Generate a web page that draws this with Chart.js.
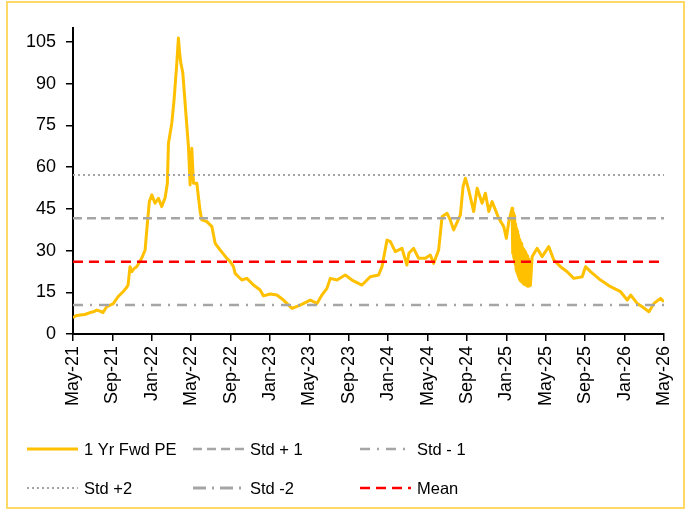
<!DOCTYPE html>
<html>
<head>
<meta charset="utf-8">
<script src="https://cdn.jsdelivr.net/npm/chart.js@4/dist/chart.umd.min.js"></script>
<style>
  body { margin: 0; background: #fff; }
  #wrap { position: relative; width: 691px; height: 509px; }
  #frame { position: absolute; left: 6px; top: 1px; width: 675px; height: 504px; border: 2px solid #FFD966; pointer-events: none; }
</style>
</head>
<body>
<div id="wrap">
  <canvas id="peChart" width="691" height="509"></canvas>
  <div id="frame"></div>
</div>
<script>
// months since May-21
const months = [0, 0.3, 0.71, 1.2, 1.73, 2.1, 2.41, 2.75, 3.05, 3.42, 4.07, 4.57, 5.08, 5.4, 5.59, 5.79, 5.97, 6.2, 6.47, 6.98,
  7.32, 7.55, 7.75, 8.0, 8.33, 8.67, 9.01, 9.35, 9.58, 9.69, 10.03, 10.26, 10.54, 10.7, 10.85, 10.95, 11.15, 11.38, 11.72, 11.89,
  12.06, 12.23, 12.57, 12.91, 13.08, 13.59, 14.1, 14.43, 14.94, 15.62, 15.96, 16.29, 16.46, 16.8, 17.14, 17.65, 18.32, 19.0, 19.34, 20.02,
  20.7, 21.37, 22.23, 23.07, 24.09, 24.77, 25.27, 25.78, 26.12, 26.8, 27.64, 28.32, 29.34, 30.18, 31.03, 31.37, 31.88, 32.22, 32.72, 33.4,
  33.9, 34.1, 34.58, 35.09, 35.77, 36.28, 36.62, 37.12, 37.47, 37.98, 38.3, 38.65, 39.33, 39.6, 39.84, 40.17, 40.68, 41.03, 41.53, 41.87,
  42.21, 42.55, 43.22, 43.73, 44.0, 44.24, 44.58,
  44.62, 44.66, 44.70, 44.74, 44.78, 44.82, 44.86, 44.90, 44.94, 44.98,
  45.02, 45.06, 45.10, 45.14, 45.18, 45.22, 45.26, 45.30, 45.34, 45.38,
  45.42, 45.46, 45.50, 45.54, 45.58, 45.62, 45.66, 45.70, 45.74, 45.78,
  45.82, 45.86, 45.90, 45.94, 45.98, 46.02, 46.06, 46.10, 46.14, 46.18,
  46.22, 46.26, 46.30, 46.35, 46.44,
  46.61, 47.12, 47.63, 48.3, 48.81, 49.49, 50.17, 50.84, 51.7, 52.03,
  52.54, 53.56, 54.57, 55.59, 56.27, 56.61, 57.28, 57.79, 58.47, 58.98, 59.65, 60];
const fwdPE = [5.8, 6.6, 6.8, 7.0, 7.7, 8.0, 8.6, 8.2, 7.7, 9.8, 10.8, 13.4, 15.2, 16.5, 17.6, 24.2, 22.4, 23.5, 24.2, 27.3,
  30.2, 39.8, 47.6, 50, 47, 48.8, 45.8, 49, 54.2, 68.6, 75.8, 84.2, 97.4, 106.4, 100, 97.4, 93.8, 83, 67.4, 53.6,
  66.8, 54.2, 54.2, 44, 41, 40.4, 38.6, 32.6, 30.2, 27.2, 26, 24.2, 21.8, 20.6, 19.4, 20, 17.6, 15.8, 13.7, 14.4,
  14, 12.2, 9.2, 10.4, 12.2, 11, 14, 16.4, 20, 19.4, 21.2, 19.4, 17.6, 20.6, 21.2, 24.2, 33.8, 33.2, 29.6, 30.8,
  24.8, 29, 30.8, 27.2, 27.2, 28.4, 25.4, 30.2, 42.2, 43.4, 41, 37.4, 42.8, 53, 56, 51.8, 44, 52.4, 47, 50.6,
  44, 47.6, 41.6, 38.6, 34.4, 40.4, 45.2,
  44.5, 29, 43.5, 27.5, 42.5, 26, 41, 25, 39.5, 23.5,
  38, 22.5, 37, 21.5, 35.5, 20.5, 34.5, 20, 34, 19.5,
  33, 19, 32.5, 18.8, 32, 18.5, 31, 18.3, 30.5, 18,
  30, 17.8, 29.5, 17.6, 29, 17.5, 28.5, 17.3, 28, 17.2,
  27, 17.2, 25, 17.3, 17.6,
  27.8, 30.8, 27.8, 31.4, 26.6, 24.2, 22.4, 20, 20.6, 24.2,
  22.4, 19.4, 17, 15.2, 12.2, 14, 11, 9.8, 8, 11, 12.8, 11.6];

const meanPE = 26.0;
const stdPlus1 = 41.6;
const stdMinus1 = 10.4;
const stdPlus2 = 57.2;
const stdMinus2 = -5.2;

const xLabels = ['May-21', 'Sep-21', 'Jan-22', 'May-22', 'Sep-22', 'Jan-23', 'May-23', 'Sep-23',
  'Jan-24', 'May-24', 'Sep-24', 'Jan-25', 'May-25', 'Sep-25', 'Jan-26', 'May-26'];

const FONT = 'Arial, "Liberation Sans", sans-serif';
const GREY = '#A5A5A5';

function flat(v) {
  return [{ x: 0, y: v }, { x: 60, y: v }];
}

const datasets = [
  { label: '1 Yr Fwd PE', data: months.map((m, i) => ({ x: m, y: fwdPE[i] })), borderColor: '#FFC000', borderWidth: 3, order: 1 },
  { label: 'Std + 1', data: flat(stdPlus1), borderColor: GREY, borderWidth: 2.5, borderDash: [9, 5], order: 0 },
  { label: 'Std - 1', data: flat(stdMinus1), borderColor: GREY, borderWidth: 2.5, borderDash: [10, 7, 2, 7], order: 0 },
  { label: 'Std +2', data: flat(stdPlus2), borderColor: GREY, borderWidth: 2, borderDash: [2, 3], order: 0 },
  { label: 'Std -2', data: flat(stdMinus2), borderColor: GREY, borderWidth: 3, borderDash: [13, 6, 2, 6], order: 0 },
  { label: 'Mean', data: flat(meanPE), borderColor: '#FF0000', borderWidth: 2.5, borderDash: [10, 6], order: 0 }
];
datasets.forEach(d => { d.pointRadius = 0; d.tension = 0; d.fill = false; d.borderJoinStyle = 'round'; });

// legend drawn in a fixed 3 x 2 grid like the original
const legendGrid = {
  id: 'legendGrid',
  afterDraw(chart) {
    const ctx = chart.ctx;
    const cols = [27, 193, 360];
    const rows = [449, 488];
    ctx.save();
    ctx.font = '16.5px ' + FONT;
    ctx.textBaseline = 'middle';
    ctx.fillStyle = '#000';
    chart.data.datasets.forEach((ds, k) => {
      const x = cols[k % 3];
      const y = rows[Math.floor(k / 3)];
      ctx.strokeStyle = ds.borderColor;
      ctx.lineWidth = ds.borderWidth;
      ctx.setLineDash(ds.borderDash || []);
      ctx.beginPath();
      ctx.moveTo(x, y);
      ctx.lineTo(x + 51, y);
      ctx.stroke();
      ctx.setLineDash([]);
      ctx.fillText(ds.label, x + 57, y + 1);
    });
    ctx.restore();
  }
};

new Chart(document.getElementById('peChart').getContext('2d'), {
  type: 'line',
  data: { datasets: datasets },
  options: {
    responsive: false,
    animation: false,
    layout: { padding: { left: 0, top: 28, right: 27, bottom: 95 } },
    plugins: { legend: { display: false }, tooltip: { enabled: false } },
    scales: {
      x: {
        type: 'linear',
        min: 0,
        max: 60,
        afterFit: s => { s.height = 80; },
        border: { color: '#000', width: 2 },
        grid: { drawOnChartArea: false, drawTicks: true, tickLength: 7, color: '#000', lineWidth: 1.5 },
        ticks: {
          stepSize: 4,
          minRotation: 90,
          maxRotation: 90,
          padding: 5,
          color: '#000',
          font: { family: FONT, size: 18 },
          callback: v => xLabels[v / 4]
        }
      },
      y: {
        min: 0,
        max: 110,
        afterFit: s => { s.width = 73; },
        border: { color: '#000', width: 2 },
        grid: { drawOnChartArea: false, drawTicks: true, tickLength: 7, color: '#000', lineWidth: 1.5 },
        ticks: {
          stepSize: 15,
          includeBounds: false,
          padding: 10,
          color: '#000',
          font: { family: FONT, size: 18 }
        }
      }
    }
  },
  plugins: [legendGrid]
});
</script>
</body>
</html>
